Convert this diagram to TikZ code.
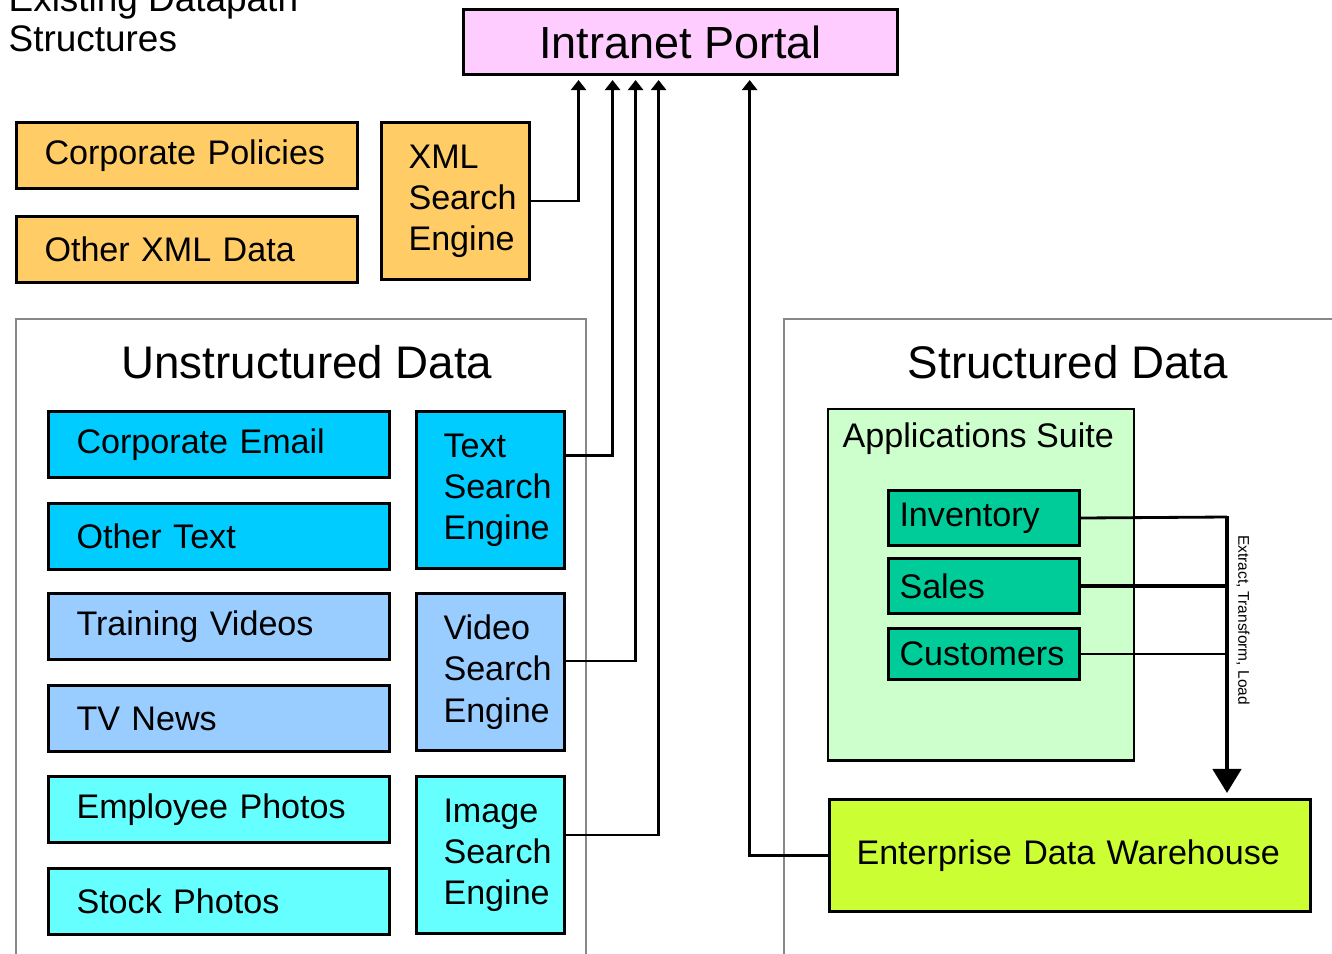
\documentclass[tikz, border = 0pt]{standalone}
\usepackage{fontspec}
\setmainfont{Liberation Sans}
\usetikzlibrary{arrows.meta}

\definecolor{portalpink}{HTML}{FFCCFF}
\definecolor{xmlorange}{HTML}{FFCC66}
\definecolor{textcyan}{HTML}{00CCFF}
\definecolor{videoblue}{HTML}{99CCFF}
\definecolor{imageaqua}{HTML}{66FFFF}
\definecolor{suitegreen}{HTML}{CCFFCC}
\definecolor{tableteal}{HTML}{00CC99}
\definecolor{dwhlime}{HTML}{CCFF33}
\definecolor{panelgray}{HTML}{888888}

\begin{document}
\begin{tikzpicture}[x = 0.01cm, y = -0.01cm,
    box/.style = {draw, line width = 0.85pt, rectangle, anchor = north west,
        align = left, font = \fontsize{9.7}{11.7}\selectfont},
    databox/.style = {box, inner xsep = 0.28cm, text width = 2.85cm, minimum height = 0.66cm},
    enginebox/.style = {box, inner xsep = 0.27cm, text width = 0.94cm, minimum height = 1.57cm},
    tablebox/.style = {box, inner xsep = 0.11cm, text width = 1.69cm, minimum height = 0.55cm},
    panel/.style = {draw = panelgray, line width = 0.85pt},
    heading/.style = {font = \fontsize{13}{15}\selectfont},
    feed/.style = {line width = 0.8pt, -{Triangle[width = 0.15cm, length = 0.1cm]}, shorten > = 0.04cm},
    etl/.style = {line width = 1.3pt, -{Triangle[width = 0.28cm, length = 0.24cm]}, shorten > = 0.05cm}]

% We fix the page to the size of the picture (one unit is one pixel).
    \useasboundingbox (0, 0) rectangle (1332, 954);

    \node [anchor = south west, inner sep = 0, align = left,
        font = \fontsize{10.5}{11.4}\selectfont] (title) at (8, 53) {Existing Datapath\\Structures};

    \node [box, minimum width = 4.34cm, minimum height = 0.65cm, fill = portalpink,
        font = \fontsize{12.8}{15}\selectfont] (portal) at (462, 8) {Intranet Portal};

% The XML part on top.
    \node [databox, fill = xmlorange] (policies) at (15, 121) {Corporate Policies};
    \node [databox, fill = xmlorange] (xmldata) at (15, 215) {Other XML Data};
    \node [enginebox, fill = xmlorange] (xmlse) at (380, 121) {XML\\Search\\Engine};

% The two panels are open at the bottom, so we draw them as paths, not rectangles.
    \draw [panel] (16, 954) -- (16, 319) -- (586, 319) -- (586, 954);
    \draw [panel] (784, 954) -- (784, 319) -- (1332, 319);
    \node [heading] (unstitle) at (307, 362) {Unstructured Data};
    \node [heading] (sttitle) at (1068, 362) {Structured Data};

    \node [databox, fill = textcyan] (email) at (47, 410) {Corporate Email};
    \node [databox, fill = textcyan] (othertext) at (47, 502) {Other Text};
    \node [databox, fill = videoblue] (training) at (47, 592) {Training Videos};
    \node [databox, fill = videoblue] (tvnews) at (47, 684) {TV News};
    \node [databox, fill = imageaqua] (empphotos) at (47, 775) {Employee Photos};
    \node [databox, fill = imageaqua] (stock) at (47, 867) {Stock Photos};

    \node [enginebox, fill = textcyan] (tse) at (415, 410) {Text\\Search\\Engine};
    \node [enginebox, fill = videoblue] (vse) at (415, 592) {Video\\Search\\Engine};
    \node [enginebox, fill = imageaqua] (ise) at (415, 775) {Image\\Search\\Engine};

% The applications suite holds the three tables.
    \draw [fill = suitegreen, line width = 0.85pt] (828, 409) rectangle (1134, 760);
    \node [anchor = base west, inner sep = 0, font = \fontsize{9.7}{11.7}\selectfont] (suite) at (842, 447) {Applications Suite};

    \node [tablebox, fill = tableteal] (inv) at (887, 489) {Inventory};
    \node [tablebox, fill = tableteal] (sales) at (887, 557) {Sales};
    \node [tablebox, fill = tableteal, minimum height = 0.51cm] (cust) at (887, 627) {Customers};

    \node [box, inner xsep = 0.27cm, text width = 4.27cm, minimum height = 1.12cm,
        fill = dwhlime] (dwh) at (828, 798) {Enterprise Data Warehouse};

% Every search engine and the warehouse feed the portal.
    \draw [feed] (xmlse.east) -| ([xshift = -1.02cm] portal.south);
    \draw [feed] ([yshift = 0.345cm] tse.east) -| ([xshift = -0.68cm] portal.south);
    \draw [feed] ([yshift = 0.11cm] vse.east) -| ([xshift = -0.45cm] portal.south);
    \draw [feed] ([yshift = 0.2cm] ise.east) -| ([xshift = -0.22cm] portal.south);
    \draw [feed] (dwh.west) -| ([xshift = 0.69cm] portal.south);

% The tables go down one bus into the warehouse.
    \coordinate (bus) at (1227, 517);
    \draw [line width = 0.8pt] (inv.east) -- (bus);
    \draw [line width = 1.4pt] (sales.east) -- (sales.east -| bus);
    \draw [line width = 0.8pt] (cust.east) -- (cust.east -| bus);
    \draw [etl] ([yshift = 0.01cm] bus) -- (bus |- dwh.north);
    \node [rotate = -90, font = \fontsize{4.4}{5}\selectfont] (etllabel) at (1243, 620) {Extract, Transform, Load};

\end{tikzpicture}
\end{document}
